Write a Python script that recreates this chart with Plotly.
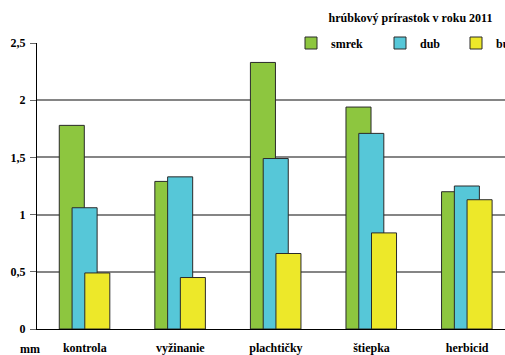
import plotly.graph_objects as go

categories = ["kontrola", "vyžinanie", "plachtičky", "štiepka", "herbicid"]
smrek = [1.78, 1.29, 2.33, 1.94, 1.20]
dub = [1.06, 1.33, 1.49, 1.71, 1.25]
buk = [0.49, 0.45, 0.66, 0.84, 1.13]
series_names = ["smrek", "dub", "buk"]
y_tickvals = [0, 0.5, 1, 1.5, 2, 2.5]
y_ticklabels = ["0", "0,5", "1", "1,5", "2", "2,5"]
title_text = "hrúbkový prírastok v roku 2011"
unit_text = "mm"

W, H = 505, 355
ML, MR, MT, MB = 37, 0, 43, 26
plot_w = W - ML - MR
plot_h = H - MT - MB

FONT = "Liberation Serif"
colors = ["#8DC63F", "#56C7D8", "#EDE829"]
offsets = [-0.267, -0.133, 0.0]
bar_w = 0.262
legend_ids = ["legend", "legend2", "legend3"]
legend_px = [291, 380, 456]

fig = go.Figure()
for i, (name, vals) in enumerate(zip(series_names, [smrek, dub, buk])):
    fig.add_trace(go.Bar(
        x=categories, y=vals, name="<b>" + name + "</b>",
        width=bar_w, offset=offsets[i], showlegend=True,
        marker=dict(color=colors[i], line=dict(color="#2a2a2a", width=1)),
        legend=legend_ids[i],
    ))

def px_to_paper_x(px):
    return (px - ML) / plot_w

def px_to_paper_y(py):
    return (H - MB - py) / plot_h

leg_common = dict(
    orientation="h", yanchor="middle", y=1.0, xanchor="left",
    bgcolor="rgba(0,0,0,0)", borderwidth=0,
    font=dict(family=FONT, size=12, color="black"),
)
layout_legends = {lid: dict(x=px_to_paper_x(px), **leg_common)
                  for lid, px in zip(legend_ids, legend_px)}

fig.update_layout(
    width=W, height=H,
    margin=dict(l=ML, r=MR, t=MT, b=MB, pad=0, autoexpand=False),
    paper_bgcolor="white", plot_bgcolor="white",
    barmode="overlay", showlegend=True,
    font=dict(family=FONT, size=12, color="black"),
    title=dict(text="<b>" + title_text + "</b>", x=410.5 / W, xanchor="center",
               y=1 - 18 / H, yanchor="middle", xref="container", yref="container",
               font=dict(family=FONT, size=12, color="black")),
    xaxis=dict(type="category", range=[-0.5, -0.5 + plot_w / 95.57],
               tickvals=categories, ticktext=["<b>" + c + "</b>" for c in categories],
               showline=True, linecolor="black", linewidth=1,
               ticks="", showgrid=False, ticklabelstandoff=8,
               tickfont=dict(family=FONT, size=12, color="black")),
    yaxis=dict(range=[0, 2.5], tickvals=y_tickvals,
               ticktext=["<b>" + t + "</b>" for t in y_ticklabels],
               showline=True, linecolor="black", linewidth=1,
               ticks="outside", ticklen=6, tickcolor="#666", tickwidth=1,
               showgrid=True, gridcolor="#858585", gridwidth=1.5,
               zeroline=False, ticklabelstandoff=2,
               tickfont=dict(family=FONT, size=12, color="black")),
    **layout_legends,
)

# white strip behind the legend row (covers the top gridline there)
fig.add_shape(type="rect", xref="paper", yref="paper",
              x0=px_to_paper_x(290), x1=1.0,
              y0=px_to_paper_y(53), y1=px_to_paper_y(34),
              fillcolor="white", line=dict(width=0), layer="between")

fig.add_annotation(text="<b>" + unit_text + "</b>", xref="paper", yref="paper",
                   x=px_to_paper_x(30), y=0, yshift=-20, showarrow=False,
                   xanchor="center", yanchor="middle",
                   font=dict(family=FONT, size=12, color="black"))

fig.write_html("out.html")
